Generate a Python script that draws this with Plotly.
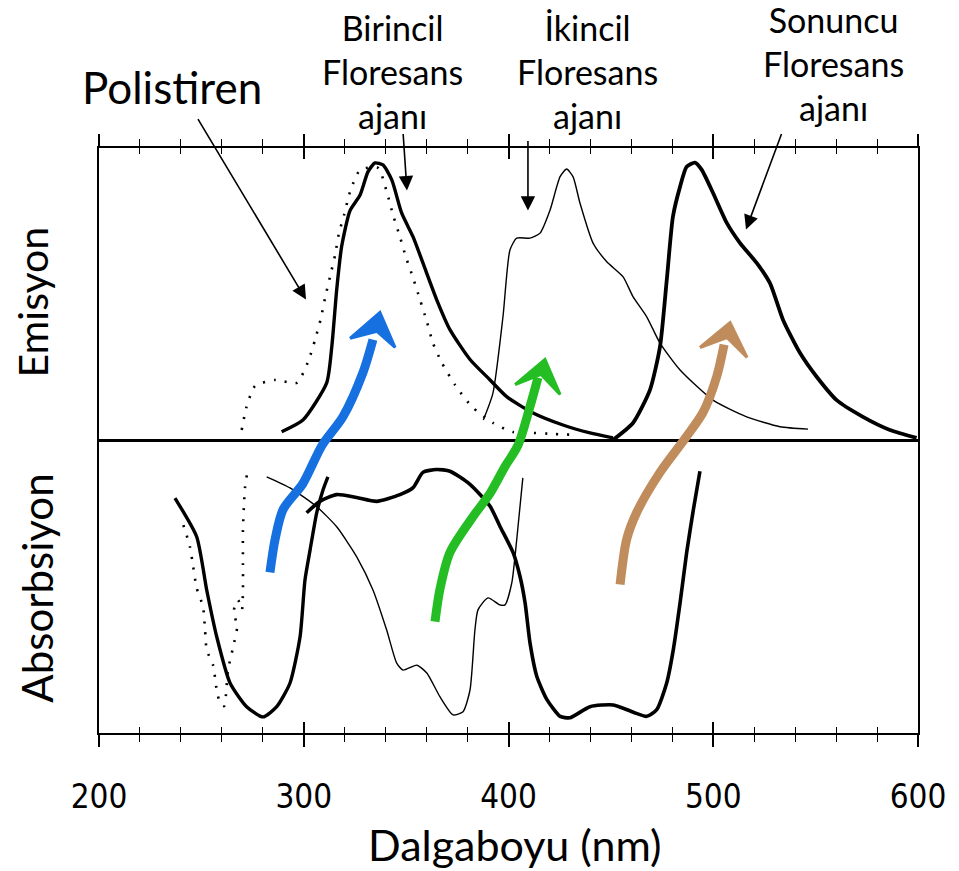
import plotly.graph_objects as go

# ---------------- data (wavelength in nm, signal: emission >0, absorption <0) -------------
tick_vals = [200, 300, 400, 500, 600]
tick_text = ["200", "300", "400", "500", "600"]

# Emission spectra
ps_em_nm = [269.7, 272.1, 276.2, 286.0, 296.6, 302.1, 305.5, 308.4, 310.4, 312.8, 315.3, 317.2, 319.7, 322.6,
            327.5, 336.3, 340.7, 343.6, 347.0, 349.9, 353.4, 356.8, 360.2, 363.1, 367.5, 373.9, 382.2, 392.4,
            402.2, 412.0, 422.7, 433.5]
ps_em_y = [0.036, 0.116, 0.186, 0.207, 0.197, 0.269, 0.344, 0.419, 0.487, 0.559, 0.634, 0.709, 0.771, 0.850,
           0.925, 0.932, 0.846, 0.771, 0.696, 0.627, 0.556, 0.481, 0.405, 0.333, 0.265, 0.190, 0.115, 0.060,
           0.029, 0.026, 0.022, 0.019]

prim_em_nm = [289.2, 299.6, 311.2, 313.7, 316.1, 318.5, 322.6, 327.5, 331.4, 334.8, 338.7, 343.0, 347.8, 353.4,
              358.2, 364.9, 371.4, 381.2, 391.0, 399.1, 412.0, 426.6, 439.8, 451.0]
prim_em_y = [0.030, 0.070, 0.197, 0.321, 0.516, 0.663, 0.786, 0.839, 0.919, 0.949, 0.942, 0.891, 0.778, 0.696,
             0.607, 0.482, 0.379, 0.277, 0.207, 0.150, 0.094, 0.053, 0.026, 0.009]

sec_em_nm = [387.7, 392.4, 397.3, 400.7, 404.0, 410.5, 415.4, 420.3, 425.2, 428.4, 431.5, 434.9, 441.3, 448.0,
             455.9, 460.8, 467.5, 474.0, 483.8, 499.9, 516.3, 532.6, 546.3]
sec_em_y = [0.070, 0.162, 0.423, 0.651, 0.692, 0.692, 0.709, 0.788, 0.902, 0.928, 0.902, 0.812, 0.675, 0.611,
            0.560, 0.492, 0.423, 0.333, 0.241, 0.138, 0.081, 0.047, 0.039]

fin_em_nm = [451.0, 460.8, 469.1, 474.0, 477.3, 480.3, 483.8, 487.0, 491.1, 494.4, 499.9, 506.6, 513.1, 521.2,
             527.7, 534.1, 542.4, 550.5, 560.3, 573.1, 586.3, 599.3]
fin_em_y = [0.002, 0.060, 0.173, 0.321, 0.549, 0.765, 0.868, 0.936, 0.950, 0.925, 0.846, 0.744, 0.675, 0.607,
            0.538, 0.412, 0.299, 0.218, 0.138, 0.081, 0.036, 0.009]

# Absorption spectra
ps_abs_nm = [241.2, 244.4, 246.0, 247.7, 250.8, 251.8, 252.6, 255.7, 257.5, 259.1, 261.1, 263.0, 265.4, 267.4,
             265.9, 267.9, 269.8, 270.3, 270.3, 270.3, 270.8, 271.3, 272.8]
ps_abs_y = [-0.289, -0.363, -0.431, -0.504, -0.568, -0.648, -0.716, -0.768, -0.853, -0.897, -0.908, -0.785,
            -0.709, -0.641, -0.579, -0.545, -0.579, -0.511, -0.409, -0.306, -0.221, -0.162, -0.091]

prim_abs_nm = [237.1, 247.7, 252.6, 257.5, 264.0, 272.1, 280.1, 286.8, 293.3, 298.2, 300.6, 303.1, 306.3, 309.4, 311.8]
prim_abs_y = [-0.197, -0.329, -0.511, -0.671, -0.829, -0.910, -0.945, -0.910, -0.829, -0.671, -0.477, -0.374,
              -0.248, -0.169, -0.124]

sec_abs_nm = [281.9, 293.3, 306.3, 316.1, 325.8, 333.8, 340.5, 345.4, 348.5, 355.2, 360.1, 366.5, 372.9, 377.8,
              381.2, 383.6, 385.1, 390.0, 395.8, 398.3, 401.6, 404.0, 407.0]
sec_abs_y = [-0.124, -0.162, -0.226, -0.295, -0.397, -0.511, -0.648, -0.761, -0.785, -0.768, -0.795, -0.876,
             -0.938, -0.927, -0.853, -0.648, -0.579, -0.538, -0.562, -0.562, -0.487, -0.340, -0.128]

fin_abs_nm = [301.4, 307.9, 316.1, 325.8, 335.6, 347.0, 353.4, 358.2, 364.9, 371.4, 381.2, 391.0, 395.8, 402.3,
              405.6, 408.1, 410.5, 413.8, 418.7, 425.2, 430.0, 439.8, 451.2, 461.0, 467.5, 472.4, 477.3, 480.5,
              483.8, 487.0, 490.3, 493.5]
fin_abs_y = [-0.247, -0.208, -0.185, -0.195, -0.208, -0.185, -0.161, -0.109, -0.099, -0.105, -0.150, -0.225,
             -0.293, -0.384, -0.464, -0.555, -0.692, -0.806, -0.885, -0.943, -0.948, -0.910, -0.904, -0.929,
             -0.943, -0.920, -0.828, -0.715, -0.555, -0.384, -0.236, -0.105]

# Hand-drawn energy-transfer arrows (shaft path and filled head)
blue_shaft_nm = [283.5, 286.0, 289.9, 299.6, 308.9, 319.2, 328.9, 333.8]
blue_shaft_y = [-0.451, -0.338, -0.236, -0.147, -0.017, 0.082, 0.232, 0.345]
blue_head_nm = [322.6, 337.2, 344.6, 335.8, 322.6]
blue_head_y = [0.349, 0.438, 0.318, 0.373, 0.349]

green_shaft_nm = [364.1, 366.5, 371.4, 382.7, 391.0, 398.3, 404.6, 410.5, 414.4]
green_shaft_y = [-0.619, -0.509, -0.383, -0.260, -0.181, -0.089, -0.017, 0.116, 0.215]
green_head_nm = [403.2, 417.8, 425.2, 415.9, 403.2]
green_head_y = [0.191, 0.277, 0.157, 0.226, 0.191]

brown_shaft_nm = [454.5, 457.7, 462.6, 474.0, 487.0, 495.0, 501.7, 505.3]
brown_shaft_y = [-0.492, -0.338, -0.246, -0.109, 0.014, 0.096, 0.219, 0.328]
brown_head_nm = [493.5, 508.2, 516.5, 506.7, 493.5]
brown_head_y = [0.318, 0.403, 0.284, 0.352, 0.318]

# Label pointer arrows: (head nm, head y, tail nm, tail y)
ptr_polistiren = (301.1, 0.482, 247.9, 1.104)
ptr_birincil = (350.4, 0.855, 348.5, 1.053)
ptr_ikincil = (409.5, 0.786, 409.5, 1.029)
ptr_sonuncu = (516.0, 0.721, 533.6, 1.053)

# ---------------- figure -------------------
FONT = "Lato"
fig = go.Figure()

def curve(x, y, width, dash="solid"):
    fig.add_trace(go.Scatter(x=x, y=y, mode="lines",
                             line=dict(color="black", width=width, dash=dash, shape="spline", smoothing=0.6),
                             hoverinfo="skip", showlegend=False))

curve(ps_em_nm, ps_em_y, 2.6, "2px,9px")
curve(prim_em_nm, prim_em_y, 3.4)
curve(sec_em_nm, sec_em_y, 1.4)
curve(fin_em_nm, fin_em_y, 3.8)
curve(ps_abs_nm, ps_abs_y, 2.6, "2px,9px")
curve(prim_abs_nm, prim_abs_y, 3.4)
curve(sec_abs_nm, sec_abs_y, 1.4)
curve(fin_abs_nm, fin_abs_y, 3.6)

def hand_arrow(sx, sy, hx, hy, color):
    fig.add_trace(go.Scatter(x=sx, y=sy, mode="lines",
                             line=dict(color=color, width=9, shape="spline", smoothing=0.8),
                             hoverinfo="skip", showlegend=False))
    fig.add_trace(go.Scatter(x=hx, y=hy, mode="lines", fill="toself", fillcolor=color,
                             line=dict(color=color, width=3), hoverinfo="skip", showlegend=False))

hand_arrow(blue_shaft_nm, blue_shaft_y, blue_head_nm, blue_head_y, "rgb(22,112,224)")
hand_arrow(green_shaft_nm, green_shaft_y, green_head_nm, green_head_y, "rgb(36,190,36)")
hand_arrow(brown_shaft_nm, brown_shaft_y, brown_head_nm, brown_head_y, "rgb(192,140,92)")

annotations = []
for hx, hy, tx, ty in [ptr_polistiren, ptr_birincil, ptr_ikincil, ptr_sonuncu]:
    annotations.append(dict(x=hx, y=hy, ax=tx, ay=ty, xref="x", yref="y", axref="x", ayref="y",
                            text="", showarrow=True, arrowhead=2, arrowsize=1.8, arrowwidth=1.6,
                            arrowcolor="black"))

def label(text, px, py, size, angle=0):
    annotations.append(dict(text=text, x=px, y=py, xref="paper", yref="paper", showarrow=False,
                            xanchor="center", yanchor="middle", textangle=angle,
                            font=dict(family=FONT, size=size, color="black")))

label("Polistiren", 0.089, 1.104, 44)
label("Birincil<br>Floresans<br>ajanı", 0.358, 1.130, 34)
label("İkincil<br>Floresans<br>ajanı", 0.596, 1.130, 34)
label("Sonuncu<br>Floresans<br>ajanı", 0.897, 1.144, 34)
label("Emisyon", -0.081, 0.737, 41, -90)
label("Absorbsiyon", -0.076, 0.248, 42, -90)
label("Dalgaboyu (nm)", 0.508, -0.191, 43)

fig.update_layout(
    width=959, height=871,
    margin=dict(l=99, r=41, t=148, b=138),
    paper_bgcolor="white", plot_bgcolor="white",
    showlegend=False,
    annotations=annotations,
    xaxis=dict(range=[200, 600], tickmode="array", tickvals=tick_vals, ticktext=tick_text,
               ticks="outside", ticklen=12, tickwidth=1.5, tickcolor="black",
               minor=dict(dtick=20, tick0=200, ticks="outside", ticklen=7, tickwidth=1.2, tickcolor="black",
                          showgrid=False),
               showline=True, linewidth=2, linecolor="black", mirror="ticks",
               showgrid=False, zeroline=False, ticklabelstandoff=21,
               tickfont=dict(family="DejaVu Sans Condensed", size=33, color="black")),
    xaxis2=dict(range=[200, 600], overlaying="x", anchor="y", side="bottom",
                tickmode="array", tickvals=tick_vals, showticklabels=False,
                ticks="inside", ticklen=11, tickwidth=1.5, tickcolor="black",
                minor=dict(dtick=20, tick0=200, ticks="inside", ticklen=6, tickwidth=1.2, tickcolor="black",
                           showgrid=False),
                showline=False, mirror="ticks", showgrid=False, zeroline=False),
    yaxis=dict(range=[-1, 1], showline=True, linewidth=2, linecolor="black", mirror=True,
               ticks="", showticklabels=False, showgrid=False,
               zeroline=True, zerolinewidth=3, zerolinecolor="black"),
)

# dummy trace to activate overlay axis
fig.add_trace(go.Scatter(x=[200, 600], y=[None, None], xaxis="x2", mode="lines",
                         hoverinfo="skip", showlegend=False))

fig.write_html("out.html", config={"displayModeBar": False},
               post_script="document.body.style.margin='0px';document.body.style.overflow='hidden';")
